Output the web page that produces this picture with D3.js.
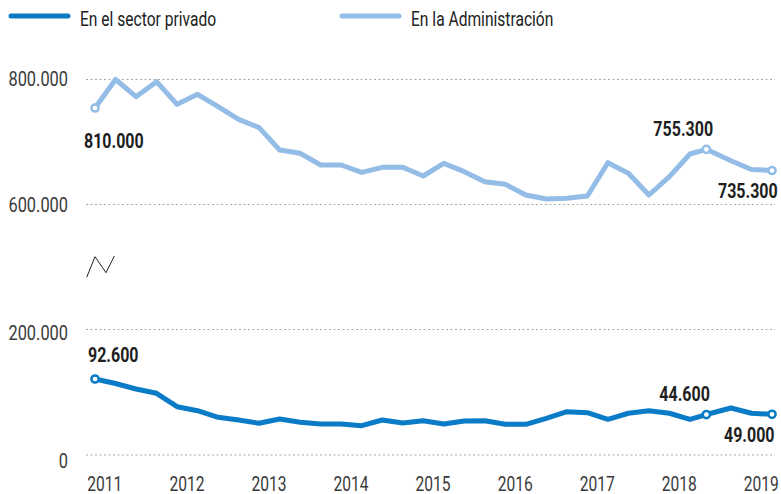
<!DOCTYPE html>
<html>
<head>
<meta charset="utf-8">
<script src="https://cdn.jsdelivr.net/npm/d3@7"></script>
<style>
  body { margin: 0; background: #fff; }
  svg { display: block; font-family: Roboto, "Liberation Sans", sans-serif; }
</style>
</head>
<body>
<svg id="chart" width="781" height="494"></svg>
<script>
// quarters, as fractional years (one point sits a bit early in the picture)
var periods = [2011, 2011.25, 2011.5, 2011.75, 2012, 2012.25, 2012.5, 2012.75,
    2013, 2013.25, 2013.5, 2013.75, 2014, 2014.25, 2014.5, 2014.75,
    2015, 2015.25, 2015.5, 2015.75, 2016, 2016.25, 2016.5, 2016.75,
    2017, 2017.25, 2017.5, 2017.75, 2018, 2018.25, 2018.45, 2018.75,
    2019, 2019.25];

// values in thousands, read against the drawn axis
var publico = [754.4, 800, 772.5, 796.5, 760.3, 776.3, 756.5, 736.3,
    723, 687.2, 681.9, 663.2, 663.2, 651.5, 659.5, 659.5,
    645.6, 665.9, 652.5, 636.5, 632.3, 615.2, 608.8, 609.9,
    613.6, 666.9, 649.9, 615.2, 644.5, 680.8, 688.3, 670,
    656, 654.4];

var privado = [121.1, 113.9, 105.2, 98.3, 77, 70.6, 60.1, 55.8,
    50.5, 57.4, 52.1, 49.4, 49.4, 46.7, 55.8, 51,
    54.7, 49.4, 54.2, 54.7, 48.9, 48.9, 58.5, 69,
    67.4, 56.9, 66.5, 70.6, 66.5, 56.9, 64.5, 74.9,
    66.5, 64.9];

var years = [2011, 2012, 2013, 2014, 2015, 2016, 2017, 2018, 2019];
var yTicks = [0, 200, 600, 800];
var tickLabels = ['0', '200.000', '600.000', '800.000'];

var seriesNames = ['En el sector privado', 'En la Administración'];

// labelled points: series, index, text
var notes = [
    { s: 1, i: 0, text: '810.000' },
    { s: 1, i: 30, text: '755.300' },
    { s: 1, i: 33, text: '735.300' },
    { s: 0, i: 0, text: '92.600' },
    { s: 0, i: 30, text: '44.600' },
    { s: 0, i: 33, text: '49.000' }
];

var colors = ['#0a7bc6', '#93bde6'];

var svg = d3.select('#chart');

var x = d3.scaleLinear().domain([2011, 2019.25]).range([95, 772]);
// broken axis: 200.000 -> 600.000 is squeezed
var y = d3.scaleLinear().domain([0, 200, 600, 800]).range([455, 329.5, 204.5, 79.5]);

// no condensed font installed, so squeeze text sideways
function narrow(sel, k) {
    sel.each(function() {
        var t = d3.select(this);
        var tx = +t.attr('x'), ty = +t.attr('y');
        t.attr('x', 0).attr('y', 0)
            .attr('transform', 'translate(' + tx + ',' + ty + ') scale(' + k + ',1)');
    });
}

// grid lines
svg.append('g').selectAll('line')
    .data(yTicks)
    .enter().append('line')
    .attr('x1', 86)
    .attr('x2', 775)
    .attr('y1', function(d) { return y(d); })
    .attr('y2', function(d) { return y(d); })
    .style('stroke', '#a8a8a8')
    .style('stroke-width', 1)
    .style('stroke-dasharray', '2,2.5');

var tickDy = { 0: 13, 200: 10, 600: 7, 800: 6 };
svg.append('g').selectAll('text')
    .data(yTicks)
    .enter().append('text')
    .attr('x', 68)
    .attr('y', function(d) { return y(d) + tickDy[d]; })
    .attr('text-anchor', 'end')
    .style('font-size', '21px')
    .style('fill', '#3a3a3a')
    .text(function(d, i) { return tickLabels[i]; })
    .call(narrow, 0.78);

// year labels
svg.append('g').selectAll('text')
    .data(years)
    .enter().append('text')
    .attr('x', function(d) { return x(d + 0.12); })
    .attr('y', 491)
    .attr('text-anchor', 'middle')
    .style('font-size', '20px')
    .style('fill', '#3a3a3a')
    .text(function(d) { return d; })
    .call(narrow, 0.78);

// break mark
svg.append('path')
    .attr('d', 'M86.7,277.3 L95,256.7 L106,272.7 L114.3,256')
    .style('fill', 'none')
    .style('stroke', '#222')
    .style('stroke-width', 1);

var line = d3.line()
    .x(function(d) { return x(d[0]); })
    .y(function(d) { return y(d[1]); });

var series = [privado, publico];

series.forEach(function(vals, s) {
    var pts = vals.map(function(v, i) { return [periods[i], v]; });
    svg.append('path')
        .datum(pts)
        .attr('d', line)
        .style('fill', 'none')
        .style('stroke', colors[s])
        .style('stroke-width', 5)
        .style('stroke-linejoin', 'round')
        .style('stroke-linecap', 'round');
});

// markers
svg.append('g').selectAll('circle')
    .data(notes)
    .enter().append('circle')
    .attr('cx', function(d) { return x(periods[d.i]); })
    .attr('cy', function(d) { return y(series[d.s][d.i]); })
    .attr('r', 3.6)
    .style('fill', '#fff')
    .style('stroke', function(d) { return colors[d.s]; })
    .style('stroke-width', 2.5);

// note text positions relative to the point
var noteOffsets = [
    [-11, 40], [-53, -13], [-54, 27],
    [-7, -17], [-47, -14], [-48, 28]
];
svg.append('g').selectAll('text')
    .data(notes)
    .enter().append('text')
    .attr('x', function(d, i) { return x(periods[d.i]) + noteOffsets[i][0]; })
    .attr('y', function(d, i) { return y(series[d.s][d.i]) + noteOffsets[i][1]; })
    .style('font-size', '20px')
    .style('font-weight', 'bold')
    .style('fill', '#1e1e1e')
    .text(function(d) { return d.text; })
    .call(narrow, 0.8);

// legend
var legendX = [10, 341];
var leg = svg.append('g').selectAll('g')
    .data(seriesNames)
    .enter().append('g')
    .attr('transform', function(d, i) { return 'translate(' + legendX[i] + ',0)'; });

leg.append('line')
    .attr('x1', 1).attr('x2', 58)
    .attr('y1', 16).attr('y2', 16)
    .style('stroke', function(d, i) { return colors[i]; })
    .style('stroke-width', 5)
    .style('stroke-linecap', 'round');

leg.append('text')
    .attr('x', 70)
    .attr('y', 26)
    .style('font-size', '20px')
    .style('fill', '#222')
    .text(function(d) { return d; })
    .call(narrow, 0.78);
</script>
</body>
</html>
